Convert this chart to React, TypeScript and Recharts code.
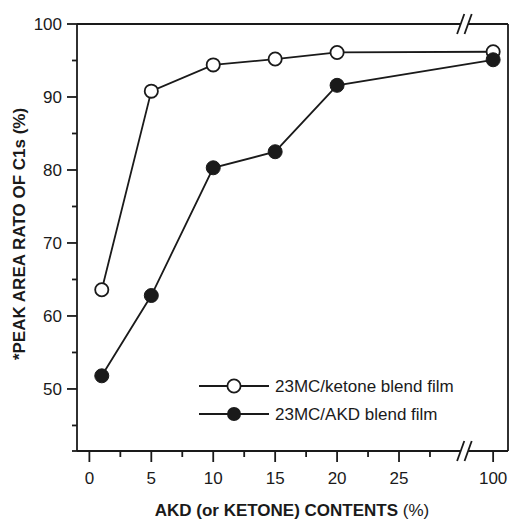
import React from "react";
import {
  LineChart,
  Line,
  XAxis,
  YAxis,
  ReferenceLine,
  ReferenceDot,
  Legend,
} from "recharts";

// ---- data ----
const contents = [1, 5, 10, 15, 20, 100];
const ketoneBlend = [63.6, 90.8, 94.4, 95.2, 96.1, 96.2];
const akdBlend = [51.8, 62.8, 80.3, 82.5, 91.6, 95.1];

const seriesNames = ["23MC/ketone blend film", "23MC/AKD blend film"];

const xMajorLabels = [0, 5, 10, 15, 20, 25, 100];
const xMinorTicks = [2.5, 7.5, 12.5, 17.5, 22.5, 27.5];
const yMajorTicks = [50, 60, 70, 80, 90, 100];
const yMinorTicks = [45, 55, 65, 75, 85, 95];

// broken axis: values beyond the break are placed at a compressed position
const BREAK_AT = 30;
const POS_100 = 32.6;
const X_MIN = -1;
const X_MAX = 33.8;
const Y_MIN = 41.5;
const Y_MAX = 100;
const BREAK_LEFT = 29.98;
const BREAK_RIGHT = 30.58;

const axisPos = (v: number) => (v <= BREAK_AT ? v : POS_100);

const data = contents.map((c, i) => ({
  pos: axisPos(c),
  label: c,
  ketone: ketoneBlend[i],
  akd: akdBlend[i],
}));

const xTicks = [...xMajorLabels.map(axisPos), ...xMinorTicks].sort((a, b) => a - b);
const xMajorSet = new Set(xMajorLabels.map(axisPos));
const yTicks = [Y_MIN, ...yMinorTicks, ...yMajorTicks].sort((a, b) => a - b);
const yMajorSet = new Set(yMajorTicks);

const FONT = "'Liberation Sans', Arial, Helvetica, sans-serif";
const INK = "#1a1a1a";

const XTick = (props: any) => {
  const { x, y, payload } = props;
  const v = payload.value as number;
  const major = xMajorSet.has(v);
  const text = v === POS_100 ? "100" : String(v);
  return (
    <g>
      <line x1={x} x2={x} y1={y} y2={y + (major ? 11 : 6)} stroke={INK} strokeWidth={1.8} />
      {major && (
        <text x={x} y={y + 33} textAnchor="middle" fontSize={17} fontFamily={FONT} fill={INK}>
          {text}
        </text>
      )}
    </g>
  );
};

const YTick = (props: any) => {
  const { x, y, payload } = props;
  const v = payload.value as number;
  const major = yMajorSet.has(v);
  return (
    <g>
      <line x1={x - (major ? 10 : 5)} x2={x} y1={y} y2={y} stroke={INK} strokeWidth={1.8} />
      {major && (
        <text x={x - 15} y={y + 6} textAnchor="end" fontSize={17} fontFamily={FONT} fill={INK}>
          {v}
        </text>
      )}
    </g>
  );
};

const Slash = (props: any) => {
  const { cx, cy } = props;
  return (
    <line x1={cx - 3.6} y1={cy + 10} x2={cx + 3.6} y2={cy - 10} stroke={INK} strokeWidth={1.8} />
  );
};

const OpenDot = (props: any) => {
  const { cx, cy } = props;
  return <circle cx={cx} cy={cy} r={6.6} fill="#fff" stroke={INK} strokeWidth={1.8} />;
};
const FilledDot = (props: any) => {
  const { cx, cy } = props;
  return <circle cx={cx} cy={cy} r={7} fill={INK} stroke={INK} strokeWidth={1} />;
};

const LegendContent = () => (
  <svg width={270} height={58} style={{ display: "block" }}>
    {seriesNames.map((name, i) => {
      const cy = 16 + i * 28;
      return (
        <g key={name}>
          <line x1={4} x2={74} y1={cy} y2={cy} stroke={INK} strokeWidth={1.8} />
          {i === 0 ? (
            <circle cx={39} cy={cy} r={6.6} fill="#fff" stroke={INK} strokeWidth={1.8} />
          ) : (
            <circle cx={39} cy={cy} r={7} fill={INK} />
          )}
          <text x={80} y={cy + 6} fontSize={17} fontFamily={FONT} fill={INK}>
            {name}
          </text>
        </g>
      );
    })}
  </svg>
);

export default function App() {
  return (
    <div style={{ position: "absolute", left: 0, top: 0, width: 509, height: 519, background: "#fff" }}>
      <LineChart
        width={509}
        height={519}
        data={data}
        margin={{ top: 24, right: 1, bottom: 0, left: 0 }}
      >
        <XAxis
          dataKey="pos"
          type="number"
          domain={[X_MIN, X_MAX]}
          ticks={xTicks}
          interval={0}
          allowDataOverflow
          axisLine={false}
          tickLine={false}
          tickSize={0}
          tickMargin={0}
          tick={<XTick />}
          height={68}
          label={{
            position: "insideBottom",
            content: () => (
              <text x={292} y={516} textAnchor="middle" fontSize={17} fontFamily={FONT} fill={INK}>
                <tspan fontWeight="bold">AKD (or KETONE) CONTENTS</tspan>
                <tspan> (%)</tspan>
              </text>
            ),
          }}
        />
        <YAxis
          type="number"
          domain={[Y_MIN, Y_MAX]}
          ticks={yTicks}
          interval={0}
          allowDataOverflow
          width={77}
          axisLine={{ stroke: INK, strokeWidth: 1.8 }}
          tickLine={false}
          tickSize={0}
          tickMargin={0}
          tick={<YTick />}
          label={{
            position: "insideLeft",
            content: () => (
              <text
                x={25}
                y={234}
                transform="rotate(-90, 25, 234)"
                textAnchor="middle"
                fontSize={17}
                fontWeight="bold"
                fontFamily={FONT}
                fill={INK}
              >
                *PEAK AREA RATO OF C1s (%)
              </text>
            ),
          }}
        />
        {/* frame with breaks */}
        <ReferenceLine segment={[{ x: X_MIN, y: Y_MAX }, { x: BREAK_LEFT, y: Y_MAX }]} stroke={INK} strokeWidth={1.8} />
        <ReferenceLine segment={[{ x: BREAK_RIGHT, y: Y_MAX }, { x: X_MAX, y: Y_MAX }]} stroke={INK} strokeWidth={1.8} />
        <ReferenceLine segment={[{ x: X_MIN, y: Y_MIN }, { x: BREAK_LEFT, y: Y_MIN }]} stroke={INK} strokeWidth={1.8} />
        <ReferenceLine segment={[{ x: BREAK_RIGHT, y: Y_MIN }, { x: X_MAX, y: Y_MIN }]} stroke={INK} strokeWidth={1.8} />
        <ReferenceLine x={X_MAX} stroke={INK} strokeWidth={1.8} />
        <ReferenceDot x={BREAK_LEFT} y={Y_MAX} shape={<Slash />} ifOverflow="visible" />
        <ReferenceDot x={BREAK_RIGHT} y={Y_MAX} shape={<Slash />} ifOverflow="visible" />
        <ReferenceDot x={BREAK_LEFT} y={Y_MIN} shape={<Slash />} ifOverflow="visible" />
        <ReferenceDot x={BREAK_RIGHT} y={Y_MIN} shape={<Slash />} ifOverflow="visible" />

        <Line
          dataKey="ketone"
          name={seriesNames[0]}
          stroke={INK}
          strokeWidth={1.8}
          dot={<OpenDot />}
          activeDot={false}
          isAnimationActive={false}
        />
        <Line
          dataKey="akd"
          name={seriesNames[1]}
          stroke={INK}
          strokeWidth={1.8}
          dot={<FilledDot />}
          activeDot={false}
          isAnimationActive={false}
        />
        <Legend
          layout="horizontal"
          verticalAlign="middle"
          align="center"
          content={<LegendContent />}
          wrapperStyle={{ left: 195, top: 370, width: 270, height: 58 }}
        />
      </LineChart>
    </div>
  );
}
